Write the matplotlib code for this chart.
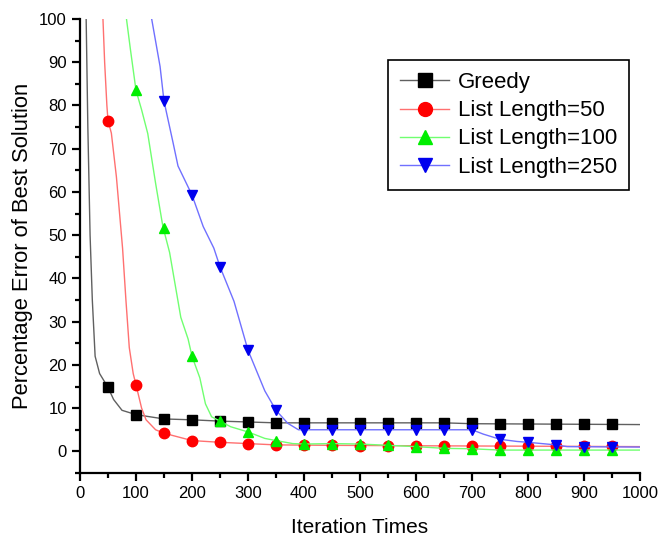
import matplotlib
matplotlib.use('Agg')
import matplotlib.pyplot as plt
from matplotlib.lines import Line2D
from matplotlib.ticker import MultipleLocator

plt.rcParams['font.family'] = ['Liberation Sans', 'DejaVu Sans']

# curve traces (iteration, % error)
greedy_x = [9, 11, 14, 18, 22, 27, 35, 50, 60, 75, 100, 150, 200, 250, 300, 350, 650, 700, 1000]
greedy_y = [105, 100, 75, 50, 35, 22, 18, 14.8, 12, 9.5, 8.5, 7.5, 7.3, 7.0, 6.8, 6.6, 6.6, 6.4, 6.2]

l50_x = [39, 41, 44, 48, 50, 56, 65, 76, 82, 88, 95, 100, 110, 118, 135, 150, 200, 250, 300, 350, 450, 600, 1000]
l50_y = [105, 100, 90, 80, 76.5, 73.6, 63.5, 47, 35, 24, 18, 15.4, 10, 7.3, 5.0, 4.2, 2.5, 2.1, 1.8, 1.5, 1.4, 1.3, 1.1]

l100_x = [80, 83, 90, 100, 110, 121, 135, 148, 160, 180, 193, 200, 214, 224, 235, 250, 269, 300, 330, 350, 380, 400, 450, 500, 600, 650, 700, 750, 1000]
l100_y = [105, 100, 93, 83.5, 79, 73.5, 62, 52, 46, 31, 26, 22, 17, 11, 8, 7.0, 5.7, 4.5, 3.0, 2.5, 1.8, 1.7, 1.8, 1.7, 1.1, 0.7, 0.6, 0.3, 0.3]

l250_x = [126, 128, 143, 150, 166, 175, 200, 220, 239, 250, 275, 300, 330, 350, 371, 390, 700, 720, 750, 780, 800, 850, 870, 1000]
l250_y = [105, 100, 89, 81, 71.5, 66, 59.3, 52, 47, 42.7, 34.7, 23.4, 14, 9.5, 6.5, 5.0, 5.0, 4.0, 2.8, 2.3, 2.1, 1.5, 1.1, 1.0]

# marker values every 50 iterations
mark_x = [50, 100, 150, 200, 250, 300, 350, 400, 450, 500, 550, 600, 650, 700, 750, 800, 850, 900, 950]
greedy_m = [14.8, 8.5, 7.5, 7.3, 7.0, 6.8, 6.6, 6.6, 6.6, 6.6, 6.6, 6.6, 6.6, 6.5, 6.3, 6.3, 6.3, 6.3, 6.3]
l50_m = [76.5, 15.4, 4.2, 2.5, 2.1, 1.8, 1.5, 1.5, 1.4, 1.3, 1.3, 1.3, 1.3, 1.3, 1.3, 1.2, 1.2, 1.2, 1.2]
l100_m = [None, 83.5, 51.7, 22.0, 7.0, 4.5, 2.5, 1.7, 1.8, 1.7, 1.4, 1.1, 0.7, 0.6, 0.3, 0.3, 0.3, 0.3, 0.3]
l250_m = [None, None, 81.0, 59.3, 42.7, 23.4, 9.5, 5.0, 5.0, 5.0, 5.0, 5.0, 5.0, 5.0, 2.8, 2.1, 1.5, 1.1, 1.1]

series = [
    ('Greedy', greedy_x, greedy_y, greedy_m, '#606060', 'black', 's'),
    ('List Length=50', l50_x, l50_y, l50_m, '#ff7070', '#ff0000', 'o'),
    ('List Length=100', l100_x, l100_y, l100_m, '#70ff70', '#00ee00', '^'),
    ('List Length=250', l250_x, l250_y, l250_m, '#7070ff', '#0000ee', 'v'),
]

fig = plt.figure(figsize=(6.59, 5.46), dpi=100)
ax = fig.add_axes([80/659, 73/546, 560/659, 454/546])

handles = []
for name, lx, ly, my, lc, mc, mk in series:
    ax.plot(lx, ly, color=lc, lw=1.0)
    pts = [(x, y) for x, y in zip(mark_x, my) if y is not None]
    ax.plot([p[0] for p in pts], [p[1] for p in pts], ls='none', marker=mk,
            color=mc, markersize=7.5, clip_on=False)
    handles.append(Line2D([], [], color=lc, lw=1.0, marker=mk, markerfacecolor=mc,
                          markeredgecolor=mc, markersize=10))

ax.set_xlim(0, 1000)
ax.set_ylim(-5, 100)
ax.xaxis.set_major_locator(MultipleLocator(100))
ax.xaxis.set_minor_locator(MultipleLocator(50))
ax.yaxis.set_major_locator(MultipleLocator(10))
ax.yaxis.set_minor_locator(MultipleLocator(5))
ax.set_yticks(range(0, 101, 10))
ax.spines['top'].set_visible(False)
ax.spines['right'].set_visible(False)
for s in ['left', 'bottom']:
    ax.spines[s].set_linewidth(1.6)
ax.tick_params(which='major', direction='out', length=6, width=1.6, labelsize=12)
ax.tick_params(which='minor', direction='out', length=3.5, width=1.6)
ax.set_xlabel('Iteration Times', fontsize=15, labelpad=12)
ax.set_ylabel('Percentage Error of Best Solution', fontsize=15.8, labelpad=4)

leg = ax.legend(handles, [s[0] for s in series], loc='upper left',
                bbox_to_anchor=(388/659, 1 - 60/546), bbox_transform=fig.transFigure,
                fontsize=16, frameon=True, fancybox=False, framealpha=1,
                handlelength=2.2, handletextpad=0.4, borderpad=0.55, labelspacing=0.32,
                borderaxespad=0)
leg.get_frame().set_edgecolor('black')
leg.get_frame().set_linewidth(1.2)

fig.savefig('out.png', dpi=100)
